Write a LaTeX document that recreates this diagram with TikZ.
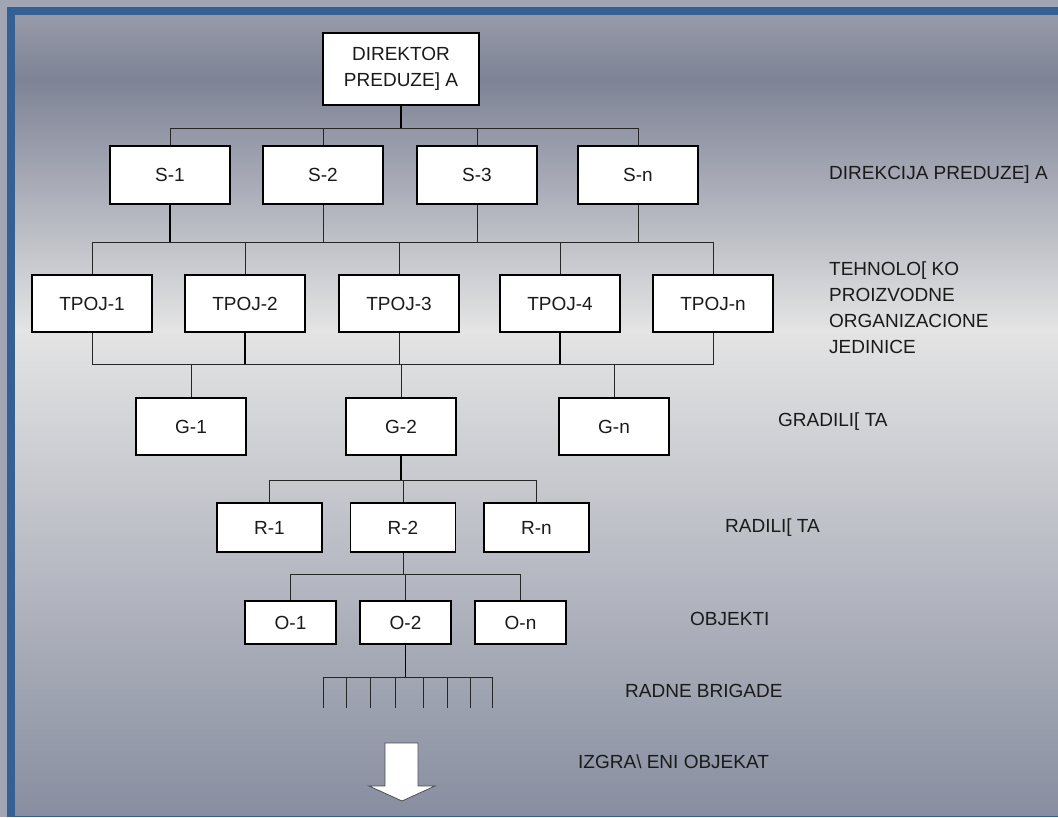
\documentclass[tikz,border=0pt]{standalone}
\usepackage{fontspec}
\setmainfont{Liberation Sans}
\usepackage{xcolor}
\usepackage{tikz}

\definecolor{frameblue}{HTML}{346195}
\definecolor{outergray}{HTML}{A2A6B2}
\definecolor{bgtop}{HTML}{969AA8}
\definecolor{bgdark}{HTML}{7E8396}
\definecolor{bglight}{HTML}{E4E4E4}
\definecolor{bgbottom}{HTML}{888EA0}
\definecolor{txt}{HTML}{1A1A1A}

\begin{document}
\begin{tikzpicture}[x=1pt, y=-1pt,
  every node/.style={font=\fontsize{19}{26}\selectfont, text=txt},
  orgbox/.style={draw=black, line width=1.5pt, fill=white, inner sep=0pt},
  levellabel/.style={anchor=west, align=left, inner sep=0pt},
  thin/.style={line width=0.8pt, draw=black!85},
  thickline/.style={line width=1.6pt, draw=black}]
  \useasboundingbox (0,0) rectangle (1058,817);
  \fill[outergray] (0,0) rectangle (1058,817);
  \fill[frameblue] (7,7) rectangle (1058,817);
  \shade[top color=bgtop, bottom color=bgdark] (15,15) rectangle (1058,80);
  \shade[top color=bgdark, bottom color=bglight] (15,80) rectangle (1058,330);
  \shade[top color=bglight, bottom color=bgbottom] (15,330) rectangle (1058,815);

  \node[orgbox, minimum width=156pt, minimum height=72pt, align=center] (dir) at (401,69) {DIREKTOR\\PREDUZE] A};

  \node[orgbox, minimum width=120pt, minimum height=58pt] (s1) at (170,175) {S-1};
  \node[orgbox, minimum width=120pt, minimum height=58pt] (s2) at (323,175) {S-2};
  \node[orgbox, minimum width=120pt, minimum height=58pt] (s3) at (477,175) {S-3};
  \node[orgbox, minimum width=120pt, minimum height=58pt] (sn) at (638,175) {S-n};

  \node[orgbox, minimum width=120pt, minimum height=57pt] (t1) at (92,303.5)  {TPOJ-1};
  \node[orgbox, minimum width=120pt, minimum height=57pt] (t2) at (245,303.5) {TPOJ-2};
  \node[orgbox, minimum width=120pt, minimum height=57pt] (t3) at (399,303.5) {TPOJ-3};
  \node[orgbox, minimum width=120pt, minimum height=57pt] (t4) at (560,303.5) {TPOJ-4};
  \node[orgbox, minimum width=120pt, minimum height=57pt] (tn) at (713,303.5) {TPOJ-n};

  \node[orgbox, minimum width=110pt, minimum height=57pt] (g1) at (191,426.5) {G-1};
  \node[orgbox, minimum width=110pt, minimum height=57pt] (g2) at (401,426.5) {G-2};
  \node[orgbox, minimum width=110pt, minimum height=57pt] (gn) at (614,426.5) {G-n};

  \node[orgbox, minimum width=105pt, minimum height=49pt] (r1) at (269.5,527.5) {R-1};
  \node[orgbox, minimum width=105pt, minimum height=49pt] (r2) at (403,527.5)   {R-2};
  \node[orgbox, minimum width=105pt, minimum height=49pt] (rn) at (536.5,527.5) {R-n};

  \node[orgbox, minimum width=91pt, minimum height=43pt] (o1) at (290.5,622.5) {O-1};
  \node[orgbox, minimum width=91pt, minimum height=43pt] (o2) at (405.5,622.5) {O-2};
  \node[orgbox, minimum width=91pt, minimum height=43pt] (on) at (520.5,622.5) {O-n};

  \coordinate (bus1) at (401,128);
  \coordinate (bus2) at (92,242);
  \coordinate (bus3) at (92,364);
  \coordinate (bus4) at (401,480);
  \coordinate (bus5) at (403,574);
  \coordinate (brig) at (405.5,677);

  \draw[thickline] (dir.south) -- (bus1);
  \draw[thin] (s1.north) |- (sn.north |- bus1) -- (sn.north);
  \draw[thin] (s2.north) -- (s2.north |- bus1);
  \draw[thin] (s3.north) -- (s3.north |- bus1);

  \draw[thin] (t1.north) |- (tn.north |- bus2) -- (tn.north);
  \draw[thickline] (s1.south) -- (s1.south |- bus2);
  \draw[thin] (s2.south) -- (s2.south |- bus2);
  \draw[thin] (s3.south) -- (s3.south |- bus2);
  \draw[thin] (sn.south) -- (sn.south |- bus2);
  \draw[thin] (t2.north) -- (t2.north |- bus2);
  \draw[thin] (t3.north) -- (t3.north |- bus2);
  \draw[thin] (t4.north) -- (t4.north |- bus2);

  \draw[thin] (t1.south) |- (tn.south |- bus3) -- (tn.south);
  \draw[thickline] (t2.south) -- (t2.south |- bus3);
  \draw[thin] (t3.south) -- (t3.south |- bus3);
  \draw[thickline] (t4.south) -- (t4.south |- bus3);
  \draw[thin] (g1.north) -- (g1.north |- bus3);
  \draw[thin] (g2.north) -- (g2.north |- bus3);
  \draw[thin] (gn.north) -- (gn.north |- bus3);

  \draw[thickline] (g2.south) -- (bus4);
  \draw[thin] (r1.north) |- (rn.north |- bus4) -- (rn.north);
  \draw[thin] (r2.north) -- (r2.north |- bus4);

  \draw[thin] (r2.south) -- (bus5);
  \draw[thin] (o1.north) |- (on.north |- bus5) -- (on.north);
  \draw[thin] (o2.north) -- (o2.north |- bus5);

  \draw[thickline] (o2.south) -- (brig);
  \draw[thin] (323,677) -- (492,677);
  \foreach \tx in {323,346,370,395,423,447,470,492}
    \draw[thin] (\tx,677) -- (\tx,708);

  \draw[line width=0.8pt, draw=black!70, fill=white] (385,743) -- (418,743) -- (418,786) -- (435,786)
    -- (402,801) -- (369,786) -- (385,786) -- cycle;

  \node[levellabel] (lsek) at (829,175) {DIREKCIJA PREDUZE] A};
  \node[levellabel] (ltpoj) at (829,308) {TEHNOLO[ KO\\PROIZVODNE\\ORGANIZACIONE\\JEDINICE};
  \node[levellabel] (lgrad) at (778,422) {GRADILI[ TA};
  \node[levellabel] (lrad) at (725,528) {RADILI[ TA};
  \node[levellabel] (lobj) at (690,619) {OBJEKTI};
  \node[levellabel] (lbrig) at (625,691) {RADNE BRIGADE};
  \node[levellabel] (lizg) at (578,762) {IZGRA\textbackslash\ ENI OBJEKAT};
\end{tikzpicture}
\end{document}
